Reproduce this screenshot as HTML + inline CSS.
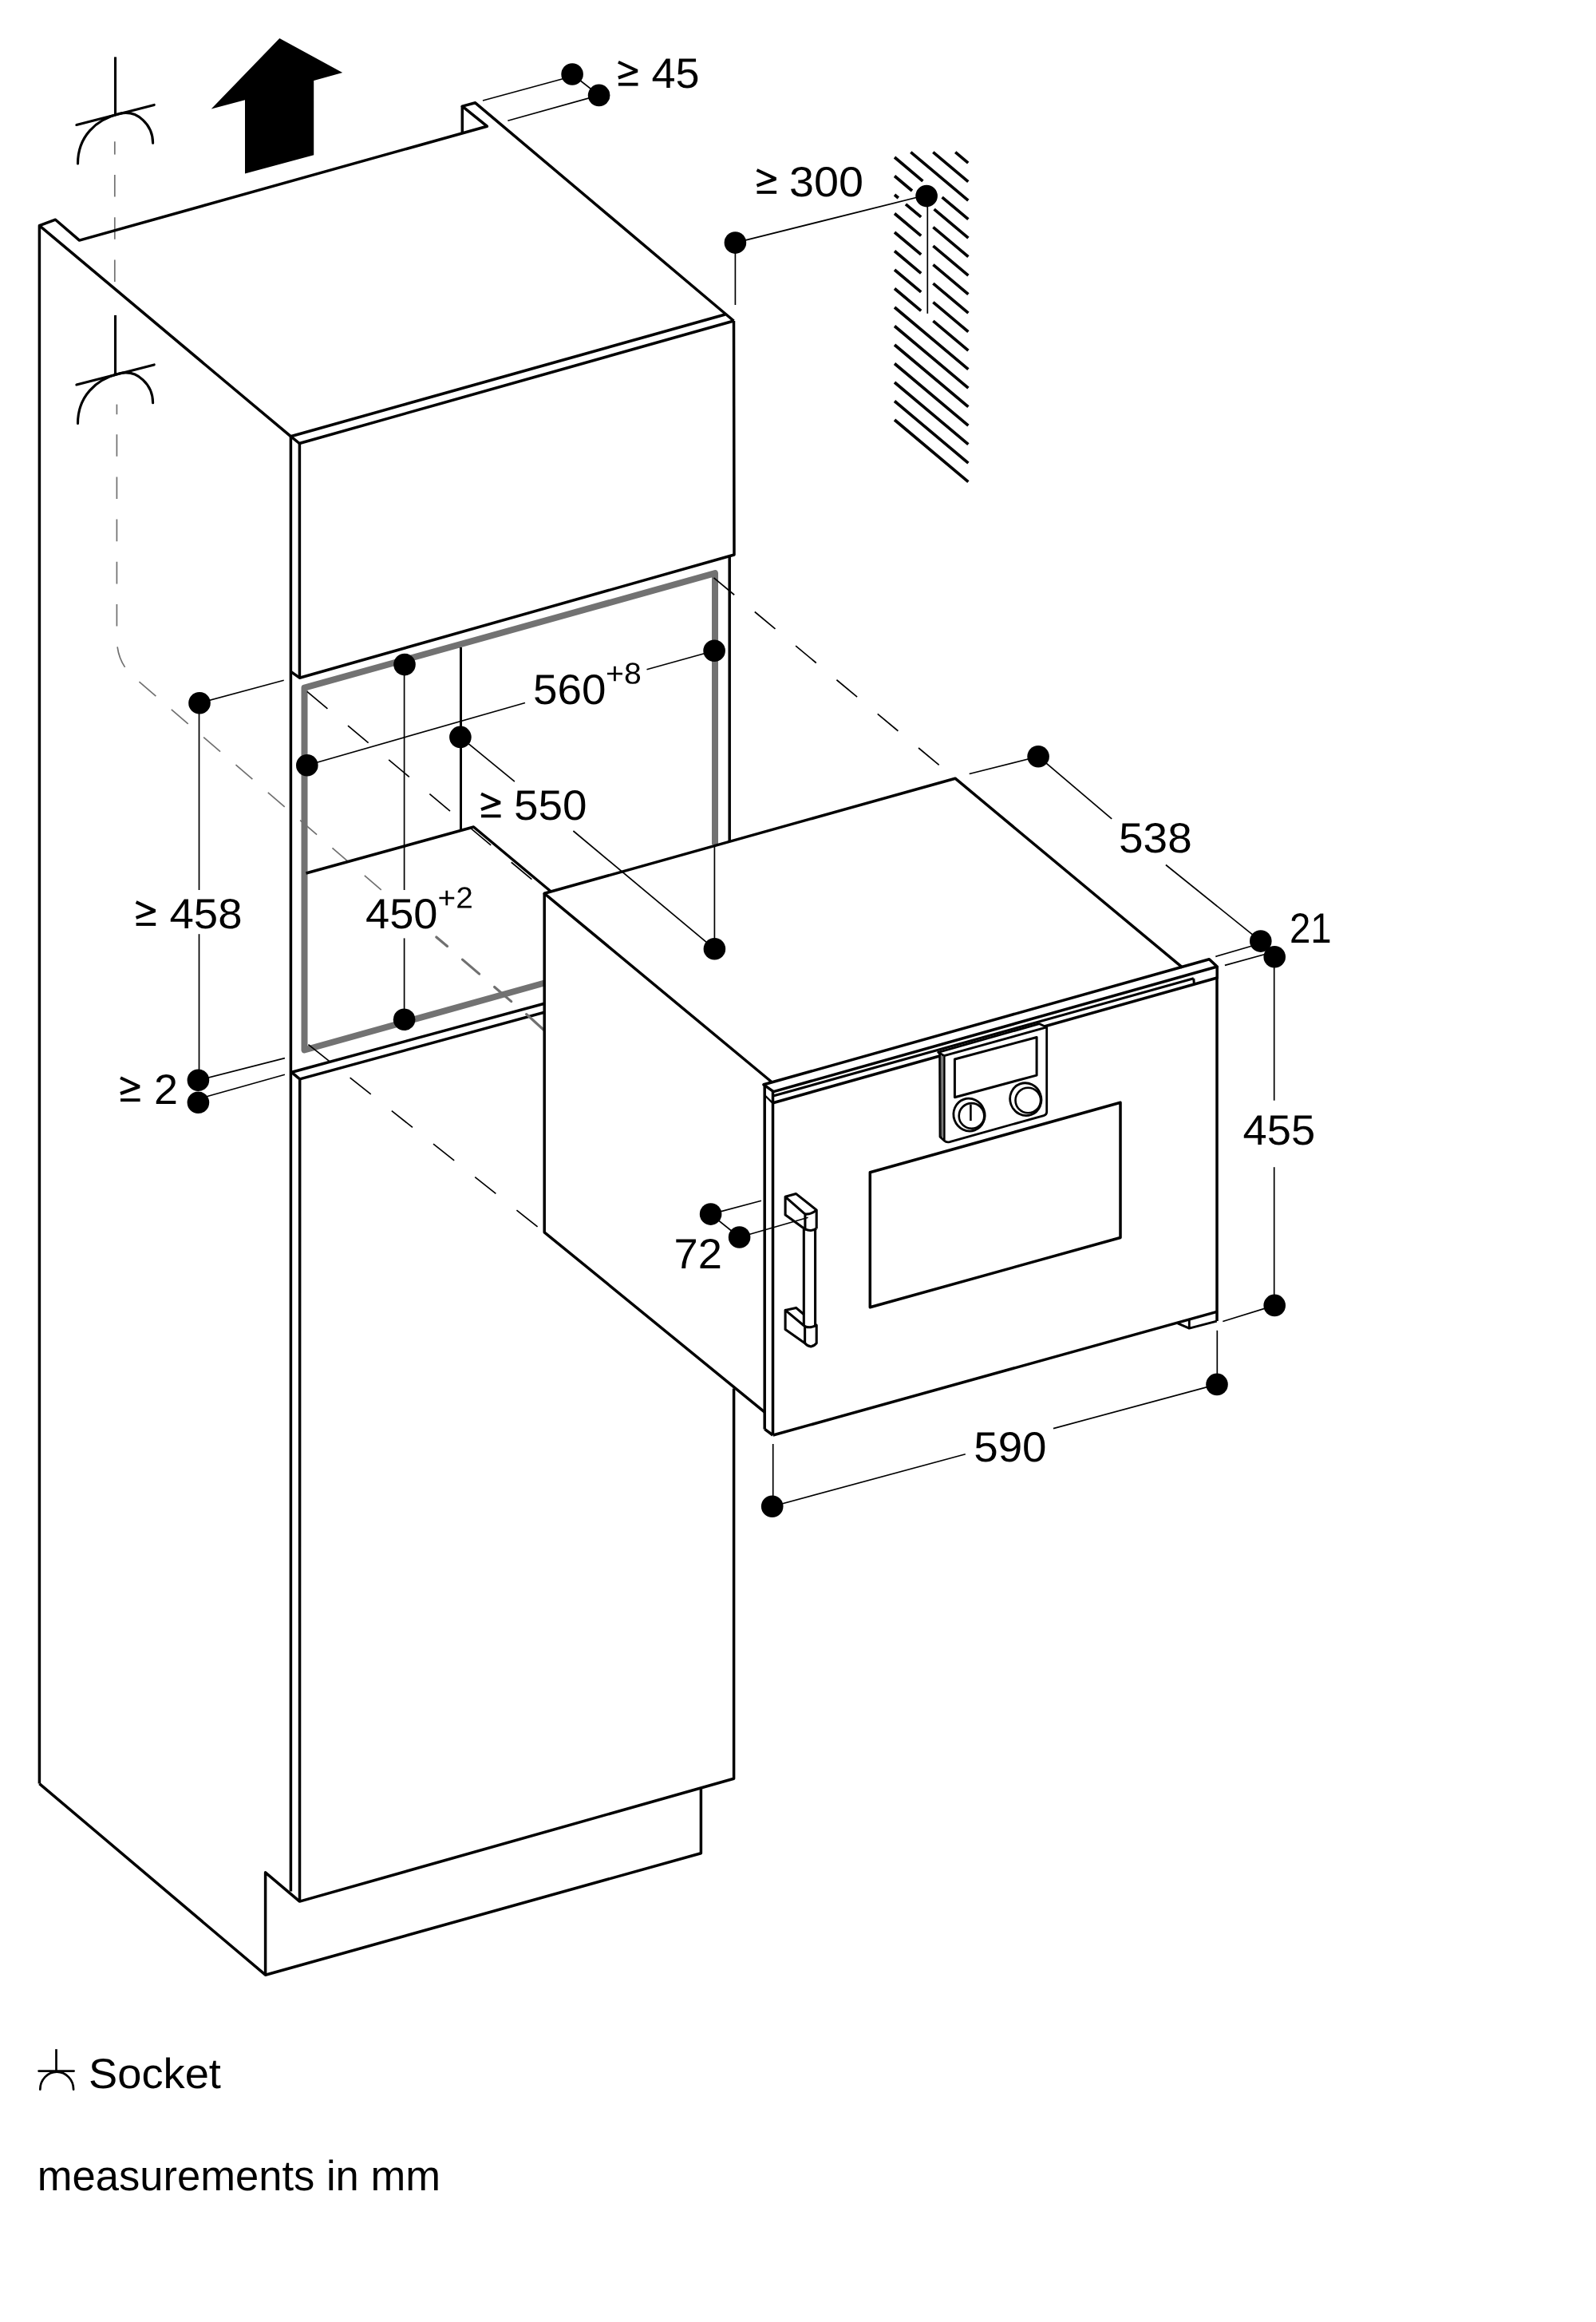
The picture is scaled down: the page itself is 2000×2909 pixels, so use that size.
<!DOCTYPE html>
<html><head><meta charset="utf-8"><title>Installation dimensions</title>
<style>
html,body{margin:0;padding:0;background:#fff;}
svg{display:block;}
text{font-family:"Liberation Sans",sans-serif;fill:#000;text-rendering:geometricPrecision;}
</style></head>
<body>
<svg width="2000" height="2909" viewBox="0 0 2000 2909">
<rect width="2000" height="2909" fill="#fff"/>
<g fill="none" stroke-linecap="butt" stroke-linejoin="round">
<line x1="1197.2" y1="190.6" x2="1213.2" y2="204.1" stroke="#000" stroke-width="3.7" />
<line x1="1169.3" y1="190.6" x2="1213.3" y2="227.6" stroke="#000" stroke-width="3.7" />
<line x1="1141.3" y1="190.6" x2="1213.3" y2="251.2" stroke="#000" stroke-width="3.7" />
<line x1="1121.0" y1="197.0" x2="1156.4" y2="226.8" stroke="#000" stroke-width="3.7" />
<line x1="1180.6" y1="247.1" x2="1213.4" y2="274.7" stroke="#000" stroke-width="3.7" />
<line x1="1121.0" y1="220.5" x2="1143.0" y2="239.0" stroke="#000" stroke-width="3.7" />
<line x1="1170.6" y1="262.2" x2="1213.4" y2="298.2" stroke="#000" stroke-width="3.7" />
<line x1="1121.0" y1="244.0" x2="1125.8" y2="248.0" stroke="#000" stroke-width="3.7" />
<line x1="1135.0" y1="255.8" x2="1154.2" y2="271.9" stroke="#000" stroke-width="3.7" />
<line x1="1169.4" y1="284.7" x2="1213.4" y2="321.7" stroke="#000" stroke-width="3.7" />
<line x1="1121.0" y1="267.5" x2="1154.2" y2="295.4" stroke="#000" stroke-width="3.7" />
<line x1="1169.4" y1="308.2" x2="1213.4" y2="345.2" stroke="#000" stroke-width="3.7" />
<line x1="1121.0" y1="291.0" x2="1154.2" y2="318.9" stroke="#000" stroke-width="3.7" />
<line x1="1169.4" y1="331.7" x2="1213.4" y2="368.7" stroke="#000" stroke-width="3.7" />
<line x1="1121.0" y1="314.5" x2="1154.2" y2="342.4" stroke="#000" stroke-width="3.7" />
<line x1="1169.4" y1="355.2" x2="1213.4" y2="392.2" stroke="#000" stroke-width="3.7" />
<line x1="1121.0" y1="338.0" x2="1154.2" y2="365.9" stroke="#000" stroke-width="3.7" />
<line x1="1169.4" y1="378.7" x2="1213.4" y2="415.7" stroke="#000" stroke-width="3.7" />
<line x1="1121.0" y1="361.5" x2="1154.2" y2="389.4" stroke="#000" stroke-width="3.7" />
<line x1="1169.4" y1="402.2" x2="1213.4" y2="439.2" stroke="#000" stroke-width="3.7" />
<line x1="1121.0" y1="385.0" x2="1213.4" y2="462.7" stroke="#000" stroke-width="3.7" />
<line x1="1121.0" y1="408.5" x2="1213.4" y2="486.2" stroke="#000" stroke-width="3.7" />
<line x1="1121.0" y1="432.0" x2="1213.4" y2="509.7" stroke="#000" stroke-width="3.7" />
<line x1="1121.0" y1="455.5" x2="1213.4" y2="533.2" stroke="#000" stroke-width="3.7" />
<line x1="1121.0" y1="479.0" x2="1213.4" y2="556.7" stroke="#000" stroke-width="3.7" />
<line x1="1121.0" y1="502.5" x2="1213.4" y2="580.2" stroke="#000" stroke-width="3.7" />
<line x1="1121.0" y1="526.0" x2="1213.4" y2="603.7" stroke="#000" stroke-width="3.7" />
<line x1="143.8" y1="177.3" x2="143.8" y2="193.6" stroke="#707070" stroke-width="1.7" />
<line x1="143.8" y1="219" x2="143.8" y2="353" stroke="#707070" stroke-width="1.7" stroke-dasharray="27.5 25.7"/>
<path d="M146.4,506.6 L146.4,519.2" stroke="#707070" stroke-width="1.7" fill="none" />
<path d="M146.4,544.2 L146.4,800 Q146.4,832 171,851.2 L480,1116.9" stroke="#707070" stroke-width="1.7" fill="none" stroke-dasharray="27.6 25.6"/>
<path d="M682.2,1231.5 L381.5,1315.5 L381.5,861.7 L896,718.2 L896,1058.2" stroke="#727272" stroke-width="8" fill="none" stroke-linejoin="round"/>
<line x1="384.8" y1="866.4" x2="682" y2="1114.7" stroke="#000" stroke-width="1.7" stroke-dasharray="33.4 33.3"/>
<line x1="894.5" y1="723.9" x2="1190" y2="969.4" stroke="#000" stroke-width="1.7" stroke-dasharray="33.4 33.3"/>
<line x1="386.4" y1="1308.6" x2="682.2" y2="1543.8" stroke="#000" stroke-width="1.7" stroke-dasharray="33.4 33.3"/>
<line x1="577.5" y1="811" x2="577.5" y2="1040" stroke="#000" stroke-width="3.0" />
<path d="M383.5,1094 L593.5,1036 L690.5,1117" stroke="#000" stroke-width="3.5" fill="none" />
<path d="M49.4,2234.6 L49.4,282.7 L69.5,275.2 L99.5,301.1 L610.3,158.2 L579.3,133.1 L595.6,128.8 L919.5,402" stroke="#000" stroke-width="3.5" fill="none" />
<line x1="579.3" y1="133.1" x2="579.3" y2="166.9" stroke="#000" stroke-width="3.5" />
<line x1="49.4" y1="282.7" x2="364.3" y2="546.7" stroke="#000" stroke-width="3.5" />
<line x1="364.3" y1="546.7" x2="908.6" y2="394" stroke="#000" stroke-width="3.5" />
<path d="M364.3,546.7 L375.2,555.5 L919.5,402" stroke="#000" stroke-width="3.5" fill="none" />
<line x1="364.4" y1="546.7" x2="364.4" y2="2369.5" stroke="#000" stroke-width="3.5" />
<line x1="375.4" y1="555.5" x2="375.4" y2="849.2" stroke="#000" stroke-width="3.5" />
<path d="M364.4,841.3 L375.4,849.2 L920,695 L919.5,402" stroke="#000" stroke-width="3.5" fill="none" />
<line x1="914.2" y1="697" x2="914.2" y2="1053.5" stroke="#000" stroke-width="3.5" />
<path d="M365,1343.2 L375.7,1351.9 L375.5,2382.1 L919.6,2228.3 L919.6,1739.4" stroke="#000" stroke-width="3.5" fill="none" />
<line x1="365.7" y1="1343.2" x2="682.2" y2="1257.2" stroke="#000" stroke-width="3.5" />
<line x1="375.7" y1="1351.9" x2="682.2" y2="1268.2" stroke="#000" stroke-width="3.5" />
<path d="M49.4,2234.6 L332.6,2474.2 L878.4,2321.7 L878.4,2240.2" stroke="#000" stroke-width="3.5" fill="none" />
<path d="M332.6,2474.2 L332.6,2345.8 L375.5,2382.1" stroke="#000" stroke-width="3.5" fill="none" />
<line x1="546.8" y1="1174" x2="560.5" y2="1185.4" stroke="#707070" stroke-width="3.2" stroke-linecap="round"/>
<line x1="579.5" y1="1202.1" x2="600.6" y2="1220.1" stroke="#707070" stroke-width="3.2" stroke-linecap="round"/>
<line x1="619.6" y1="1236.5" x2="640.7" y2="1254.6" stroke="#707070" stroke-width="3.2" stroke-linecap="round"/>
<line x1="659.7" y1="1270.6" x2="680.8" y2="1289.7" stroke="#707070" stroke-width="3.2" stroke-linecap="round"/>
<path d="M967,1355.5 L682.2,1119.3 L1197,975.2 L1481.8,1212.2" stroke="#000" stroke-width="3.5" fill="none" />
<path d="M682.2,1119.3 L682.2,1543.8 L958.5,1769.4" stroke="#000" stroke-width="3.5" fill="none" />
<path d="M969.3,1367.6 L957,1358.8 L1515.3,1201.7 L1525.2,1211 L969.3,1367.6" stroke="#000" stroke-width="3.5" fill="none" stroke-linejoin="round"/>
<line x1="969.8" y1="1372.8" x2="1495.8" y2="1225.8" stroke="#000" stroke-width="3.0" />
<line x1="1495.8" y1="1225.8" x2="1496.3" y2="1232.5" stroke="#000" stroke-width="3.0" />
<line x1="969.5" y1="1381.5" x2="1525.2" y2="1225" stroke="#000" stroke-width="3.5" />
<line x1="1525.2" y1="1211" x2="1525.2" y2="1226" stroke="#000" stroke-width="3.5" />
<line x1="958.2" y1="1359.2" x2="958.2" y2="1790.4" stroke="#000" stroke-width="3.5" />
<line x1="968.5" y1="1367.6" x2="968.5" y2="1798" stroke="#000" stroke-width="3.5" />
<line x1="958.2" y1="1372" x2="968.5" y2="1382.1" stroke="#000" stroke-width="2.2" />
<line x1="958.2" y1="1790.4" x2="968.5" y2="1798" stroke="#000" stroke-width="3.5" />
<line x1="968.7" y1="1798" x2="1524.8" y2="1643.4" stroke="#000" stroke-width="3.5" />
<line x1="1525" y1="1225" x2="1525" y2="1655.1" stroke="#000" stroke-width="3.5" />
<path d="M1524.8,1655.1 L1490.3,1664.1 L1490.3,1653.7" stroke="#000" stroke-width="2.8" fill="none" />
<line x1="1490.3" y1="1664.1" x2="1475.8" y2="1657.9" stroke="#000" stroke-width="2.8" />
<path d="M1090.3,1468.8 L1404,1381.2 L1404,1550.5 L1090.3,1637.8 Z" stroke="#000" stroke-width="3.5" fill="none" />
<path d="M1175.7,1318.3 L1302.3,1282.6 L1311.7,1286.9 L1311.7,1393 Q1311.7,1396.6 1308,1397.6 L1190,1430.6 Q1186,1431.6 1183.2,1429 L1178,1424.2 L1177.6,1320 Z" stroke="#000" stroke-width="2.8" fill="#fff" stroke-linejoin="round"/>
<path d="M1175.7,1318.3 L1183.2,1322.6 L1311.7,1286.9 M1183.2,1322.6 L1183.2,1428" stroke="#000" stroke-width="2.8" fill="none" stroke-linejoin="round"/>
<line x1="1180.3" y1="1321" x2="1180.3" y2="1426" stroke="#000" stroke-width="1.2" />
<path d="M1196.4,1327 L1299.1,1299.5 L1299.1,1347.1 L1196.4,1374.7 Z" stroke="#000" stroke-width="3" fill="none" />
<ellipse cx="1214.5" cy="1396.6" rx="19.5" ry="20.5" fill="#fff" stroke="#000" stroke-width="2.8" transform="rotate(-20 1214.5 1396.6)"/>
<circle cx="1217.5" cy="1397.8999999999999" r="15.8" fill="#fff" stroke="#000" stroke-width="2.6"/>
<line x1="1216.4" y1="1383.6" x2="1216.4" y2="1404.1" stroke="#000" stroke-width="2.6" />
<ellipse cx="1285.3" cy="1377.2" rx="19.5" ry="20.5" fill="#fff" stroke="#000" stroke-width="2.8" transform="rotate(-20 1285.3 1377.2)"/>
<circle cx="1288.3" cy="1378.5" r="15.8" fill="#fff" stroke="#000" stroke-width="2.6"/>
<path d="M984.1,1499.3 L997.6,1495.6 L1023.2,1515.9 L1023.2,1539.2" stroke="#000" stroke-width="3.1" fill="none" />
<path d="M1008.9,1521.1 Q1017,1521.5 1023.2,1515.9" stroke="#000" stroke-width="3.1" fill="none" />
<path d="M984.1,1499.3 L1008.9,1521.1 L1008.9,1539.9 L984.1,1521.9 Z" stroke="#000" stroke-width="3.1" fill="none" />
<path d="M1008.9,1539.9 Q1016,1543.5 1023.2,1539.2" stroke="#000" stroke-width="3.1" fill="none" />
<line x1="1007.3" y1="1540" x2="1007.3" y2="1661" stroke="#000" stroke-width="3.1" />
<line x1="1021.6" y1="1540" x2="1021.6" y2="1661" stroke="#000" stroke-width="3.1" />
<path d="M984.1,1641.4 L997.6,1638.4 L1007.4,1646.7" stroke="#000" stroke-width="3.1" fill="none" />
<path d="M984.1,1641.4 L1008.6,1661.7 L1008.6,1682.8 L984.1,1665.5 Z" stroke="#000" stroke-width="3.1" fill="none" />
<path d="M1008.6,1661.7 Q1016,1664.5 1023.2,1660.2 L1023.2,1682.8 Q1016,1691 1008.6,1682.8" stroke="#000" stroke-width="3.1" fill="none" />
<line x1="144.5" y1="71.4" x2="144.5" y2="143.5" stroke="#000" stroke-width="3.1" />
<line x1="95.9" y1="156.5" x2="193.2" y2="131.4" stroke="#000" stroke-width="3.1" stroke-linecap="round"/>
<path d="M97.5,205 C97.5,170.5 120.6,149.9 149,142.6 C172.5,136.5 191.6,157 191.6,179.3" stroke="#000" stroke-width="3.1" fill="none" stroke-linecap="round"/>
<line x1="144.5" y1="394.9" x2="144.5" y2="469.0" stroke="#000" stroke-width="3.1" />
<line x1="95.9" y1="482.0" x2="193.2" y2="456.9" stroke="#000" stroke-width="3.1" stroke-linecap="round"/>
<path d="M97.5,530.5 C97.5,496.0 120.6,475.4 149,468.1 C172.5,462.0 191.6,482.5 191.6,504.8" stroke="#000" stroke-width="3.1" fill="none" stroke-linecap="round"/>
<path d="M350.3,47.9 L429.2,90.9 L393.2,100.9 L393.2,194.2 L307,217.4 L307,125.3 L264.7,136.6 Z" stroke="#000" stroke-width="0" fill="#000" />
<line x1="605" y1="126" x2="708" y2="98" stroke="#000" stroke-width="1.7" />
<line x1="636.3" y1="151.3" x2="750.6" y2="119.4" stroke="#000" stroke-width="1.7" />
<line x1="717.1" y1="93" x2="750.6" y2="119.4" stroke="#000" stroke-width="1.7" />
<circle cx="717.1" cy="93" r="13.8" fill="#000"/>
<circle cx="750.6" cy="119.4" r="13.8" fill="#000"/>
<line x1="921.4" y1="304.1" x2="1161.1" y2="244.3" stroke="#000" stroke-width="1.7" />
<line x1="921.4" y1="304.1" x2="921.4" y2="382" stroke="#000" stroke-width="1.7" />
<line x1="1162.3" y1="245.6" x2="1162.3" y2="392.8" stroke="#000" stroke-width="1.7" />
<circle cx="921.4" cy="304.1" r="13.8" fill="#000"/>
<circle cx="1161.1" cy="245.6" r="13.8" fill="#000"/>
<line x1="250" y1="880.8" x2="355.7" y2="852.3" stroke="#000" stroke-width="1.7" />
<line x1="249.5" y1="880.8" x2="249.5" y2="1115" stroke="#000" stroke-width="1.7" />
<line x1="249.5" y1="1170.2" x2="249.5" y2="1353" stroke="#000" stroke-width="1.7" />
<line x1="248.4" y1="1353.2" x2="356.9" y2="1325.6" stroke="#000" stroke-width="1.7" />
<line x1="259" y1="1373.8" x2="356.9" y2="1346.3" stroke="#000" stroke-width="1.7" />
<circle cx="250" cy="880.8" r="13.8" fill="#000"/>
<circle cx="248.4" cy="1353.2" r="13.8" fill="#000"/>
<circle cx="248.4" cy="1381.3" r="13.8" fill="#000"/>
<line x1="506.6" y1="832.6" x2="506.6" y2="1115" stroke="#000" stroke-width="1.7" />
<line x1="506.6" y1="1175.4" x2="506.6" y2="1277.3" stroke="#000" stroke-width="1.7" />
<circle cx="507" cy="832.6" r="13.8" fill="#000"/>
<circle cx="506.6" cy="1277.3" r="13.8" fill="#000"/>
<line x1="384.8" y1="958.8" x2="658" y2="880.5" stroke="#000" stroke-width="1.7" />
<line x1="810.5" y1="838.8" x2="895.1" y2="815.3" stroke="#000" stroke-width="1.7" />
<circle cx="384.8" cy="958.8" r="13.8" fill="#000"/>
<circle cx="895.1" cy="815.3" r="13.8" fill="#000"/>
<line x1="576.9" y1="923.4" x2="644.9" y2="979.2" stroke="#000" stroke-width="1.7" />
<line x1="718.4" y1="1041" x2="895.4" y2="1188.8" stroke="#000" stroke-width="1.7" />
<line x1="895.4" y1="1058.2" x2="895.4" y2="1188.8" stroke="#000" stroke-width="1.7" />
<circle cx="576.9" cy="923.4" r="13.8" fill="#000"/>
<circle cx="895.4" cy="1188.8" r="13.8" fill="#000"/>
<line x1="1214.7" y1="969.5" x2="1301.1" y2="947.7" stroke="#000" stroke-width="1.7" />
<line x1="1301.1" y1="947.7" x2="1393.2" y2="1025.9" stroke="#000" stroke-width="1.7" />
<line x1="1460.9" y1="1083.5" x2="1579.8" y2="1179.1" stroke="#000" stroke-width="1.7" />
<line x1="1523.3" y1="1198.4" x2="1570" y2="1184.7" stroke="#000" stroke-width="1.7" />
<line x1="1534.9" y1="1209.4" x2="1588" y2="1194.8" stroke="#000" stroke-width="1.7" />
<circle cx="1301.1" cy="947.7" r="13.8" fill="#000"/>
<circle cx="1579.8" cy="1179.1" r="13.8" fill="#000"/>
<circle cx="1597.2" cy="1198.8" r="13.8" fill="#000"/>
<line x1="1596.7" y1="1198.8" x2="1596.7" y2="1378.7" stroke="#000" stroke-width="1.7" />
<line x1="1596.7" y1="1462.2" x2="1596.7" y2="1635.4" stroke="#000" stroke-width="1.7" />
<line x1="1532.3" y1="1655.5" x2="1597.4" y2="1635.4" stroke="#000" stroke-width="1.7" />
<circle cx="1597.2" cy="1635.4" r="13.8" fill="#000"/>
<line x1="1525.3" y1="1666.8" x2="1525.3" y2="1734.4" stroke="#000" stroke-width="1.7" />
<line x1="1525" y1="1734.4" x2="1320" y2="1789.6" stroke="#000" stroke-width="1.7" />
<line x1="1209.8" y1="1821.7" x2="967.7" y2="1887.3" stroke="#000" stroke-width="1.7" />
<line x1="968.7" y1="1809" x2="968.7" y2="1887.3" stroke="#000" stroke-width="1.7" />
<circle cx="1525" cy="1734.4" r="13.8" fill="#000"/>
<circle cx="967.7" cy="1887.3" r="13.8" fill="#000"/>
<line x1="890.6" y1="1521.1" x2="954" y2="1504.3" stroke="#000" stroke-width="1.7" />
<line x1="926.6" y1="1550" x2="1012.6" y2="1525.3" stroke="#000" stroke-width="1.7" />
<line x1="890.6" y1="1521.1" x2="926.6" y2="1550" stroke="#000" stroke-width="1.7" />
<circle cx="890.6" cy="1521.1" r="13.8" fill="#000"/>
<circle cx="926.6" cy="1550" r="13.8" fill="#000"/>
<path d="M774.9,77.8 L798.5,88.8 L774.9,97.5" stroke="#000" stroke-width="4.0" fill="none" stroke-linejoin="miter" stroke-miterlimit="1"/>
<line x1="774.9" y1="105.65" x2="799.5" y2="105.65" stroke="#000" stroke-width="3.9" />
<path d="M948.5,213.0 L972.1,224.0 L948.5,232.7" stroke="#000" stroke-width="4.0" fill="none" stroke-linejoin="miter" stroke-miterlimit="1"/>
<line x1="948.5" y1="240.85" x2="973.1" y2="240.85" stroke="#000" stroke-width="3.9" />
<path d="M603.0,994.5 L626.6,1005.5 L603.0,1014.2" stroke="#000" stroke-width="4.0" fill="none" stroke-linejoin="miter" stroke-miterlimit="1"/>
<line x1="603.0" y1="1022.35" x2="627.6" y2="1022.35" stroke="#000" stroke-width="3.9" />
<path d="M170.6,1130.1 L194.2,1141.1 L170.6,1149.8" stroke="#000" stroke-width="4.0" fill="none" stroke-linejoin="miter" stroke-miterlimit="1"/>
<line x1="170.6" y1="1157.95" x2="195.2" y2="1157.95" stroke="#000" stroke-width="3.9" />
<path d="M151.0,1350.3 L174.6,1361.3 L151.0,1370.0" stroke="#000" stroke-width="4.0" fill="none" stroke-linejoin="miter" stroke-miterlimit="1"/>
<line x1="151.0" y1="1378.15" x2="175.6" y2="1378.15" stroke="#000" stroke-width="3.9" />
<g opacity="0.999">
<text x="816.5" y="110.3" font-size="53" textLength="60.0" lengthAdjust="spacingAndGlyphs" >45</text>
<text x="989.0" y="245.5" font-size="53" textLength="93.0" lengthAdjust="spacingAndGlyphs" >300</text>
<text x="668.0" y="881.6" font-size="53" textLength="91.4" lengthAdjust="spacingAndGlyphs" >560</text>
<text x="759.1" y="856.6" font-size="37.5" textLength="44.7" lengthAdjust="spacingAndGlyphs" transform="rotate(0.03 759.1 856.6)">+8</text>
<text x="644.0" y="1027.0" font-size="53" textLength="91.5" lengthAdjust="spacingAndGlyphs" >550</text>
<text x="212.5" y="1162.6" font-size="53" textLength="91.0" lengthAdjust="spacingAndGlyphs" >458</text>
<text x="458.0" y="1162.7" font-size="53" textLength="90.4" lengthAdjust="spacingAndGlyphs" >450</text>
<text x="548.6" y="1137.6" font-size="37.5" textLength="44.2" lengthAdjust="spacingAndGlyphs" transform="rotate(0.03 548.6 1137.6)">+2</text>
<text x="193.0" y="1382.8" font-size="53" textLength="30.0" lengthAdjust="spacingAndGlyphs" >2</text>
<text x="1402.1" y="1068.2" font-size="53" textLength="91.6" lengthAdjust="spacingAndGlyphs" >538</text>
<text x="1615.9" y="1181.1" font-size="53" textLength="52.7" lengthAdjust="spacingAndGlyphs" >21</text>
<text x="1557.5" y="1433.6" font-size="53" textLength="90.6" lengthAdjust="spacingAndGlyphs" >455</text>
<text x="844.5" y="1589.1" font-size="53" textLength="60.4" lengthAdjust="spacingAndGlyphs" >72</text>
<text x="1220.2" y="1830.5" font-size="53" textLength="91.4" lengthAdjust="spacingAndGlyphs" >590</text>
<text x="111.1" y="2616.4" font-size="53" textLength="165.8" lengthAdjust="spacingAndGlyphs" >Socket</text>
<text x="46.8" y="2743.8" font-size="53" textLength="505.2" lengthAdjust="spacingAndGlyphs" >measurements in mm</text>
</g>
<line x1="70.5" y1="2567.2" x2="70.5" y2="2594.9" stroke="#000" stroke-width="2.7" />
<line x1="48.6" y1="2594.6" x2="92.6" y2="2594.6" stroke="#000" stroke-width="2.7" stroke-linecap="round"/>
<path d="M50.3,2617.7 A20.9,22 0 0 1 92.1,2617.7" stroke="#000" stroke-width="2.7" fill="none" stroke-linecap="round"/>
</g>
</svg>
</body></html>
